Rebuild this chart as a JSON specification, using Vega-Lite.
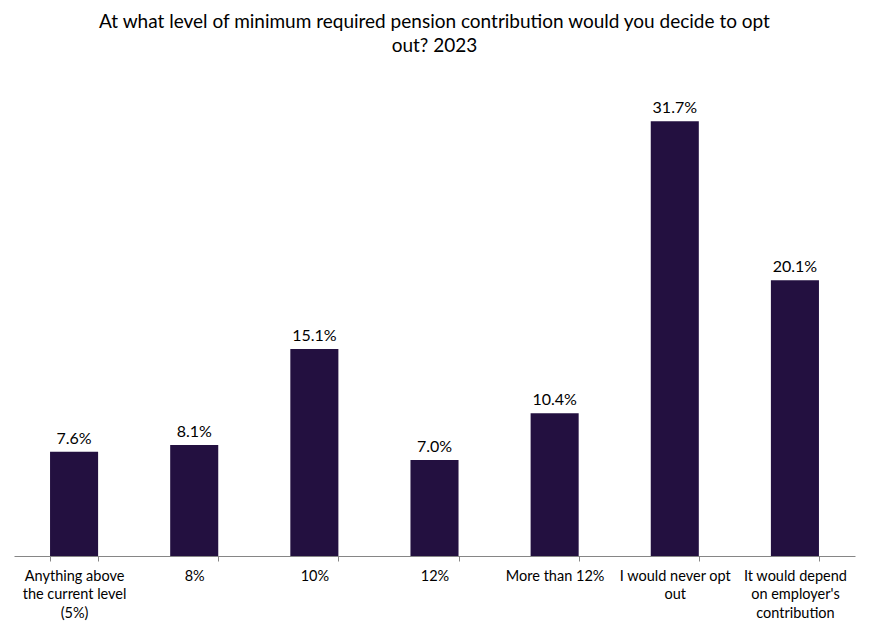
{
  "$schema": "https://vega.github.io/schema/vega-lite/v6.json",
  "width": 841,
  "height": 480,
  "autosize": "none",
  "padding": {"left": 14, "top": 76, "right": 16, "bottom": 75},
  "background": "white",
  "title": {
    "text": ["At what level of minimum required pension contribution would you decide to opt", "out? 2023"],
    "font": "Lato",
    "fontSize": 19,
    "fontWeight": "normal",
    "color": "#000000",
    "anchor": "middle",
    "frame": "group",
    "lineHeight": 24,
    "offset": 20
  },
  "config": {"view": {"stroke": null}},
  "data": {
    "values": [
      {"category": "Anything above|the current level|(5%)", "value": 0.076},
      {"category": "8%", "value": 0.081},
      {"category": "10%", "value": 0.151},
      {"category": "12%", "value": 0.070},
      {"category": "More than 12%", "value": 0.104},
      {"category": "I would never opt|out", "value": 0.317},
      {"category": "It would depend|on employer's|contribution", "value": 0.201}
    ]
  },
  "encoding": {
    "x": {
      "field": "category",
      "type": "nominal",
      "sort": null,
      "scale": {"paddingInner": 0.6, "paddingOuter": 0.3},
      "axis": {
        "title": null,
        "labelAngle": 0,
        "labelExpr": "split(datum.label, '|')",
        "labelFont": "Lato",
        "labelFontSize": 14.5,
        "labelColor": "#000000",
        "labelLineHeight": 18.5,
        "labelPadding": 8,
        "labelLimit": 200,
        "tickBand": "extent",
        "tickSize": 5,
        "tickColor": "#868686",
        "domainColor": "#868686",
        "labelBaseline": "top"
      }
    },
    "y": {
      "field": "value",
      "type": "quantitative",
      "scale": {"domain": [0, 0.35]},
      "axis": null
    }
  },
  "layer": [
    {"mark": {"type": "bar", "color": "#231040"}},
    {
      "mark": {"type": "text", "dy": -8, "baseline": "alphabetic", "font": "Lato", "fontSize": 16, "color": "#000000"},
      "encoding": {"text": {"field": "value", "format": ".1%"}}
    }
  ]
}
